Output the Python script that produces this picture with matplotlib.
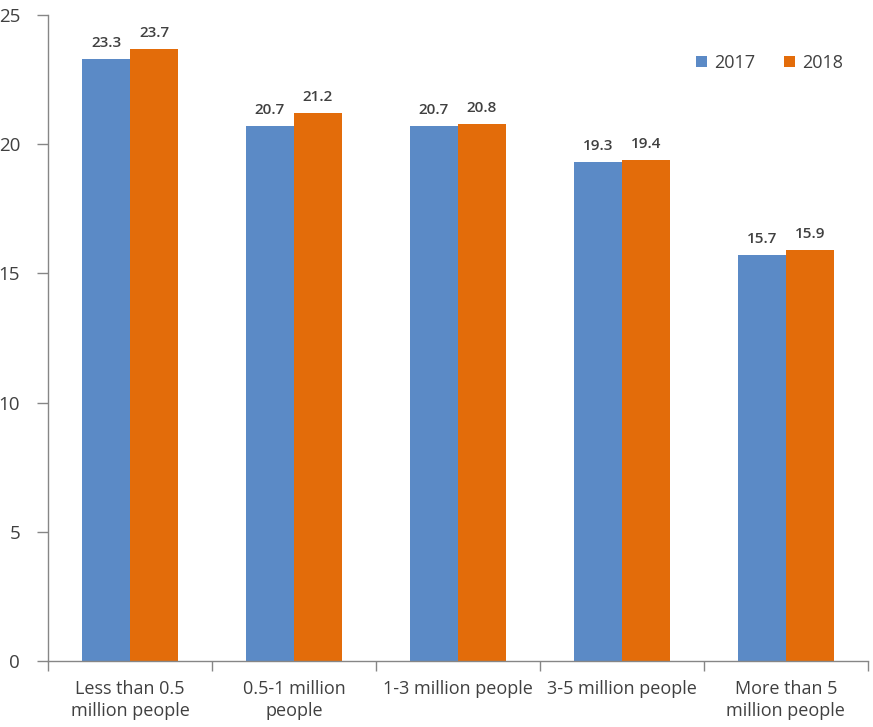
import matplotlib.pyplot as plt
import numpy as np

categories = ['Less than 0.5\nmillion people', '0.5-1 million\npeople', '1-3 million people',
              '3-5 million people', 'More than 5\nmillion people']
years = ['2017', '2018']
values_2017 = [23.3, 20.7, 20.7, 19.3, 15.7]
values_2018 = [23.7, 21.2, 20.8, 19.4, 15.9]
yticks = [0, 5, 10, 15, 20, 25]

colors = ['#5B8AC6', '#E36C0A']
text_color = '#404040'
spine_color = '#868686'

plt.rcParams['font.family'] = ['Open Sans', 'DejaVu Sans']

fig = plt.figure(figsize=(8.73, 7.27), dpi=100)
ax = fig.add_axes([0.055, 0.091, 0.939, 0.888])

x = np.arange(len(categories))
w = 0.293
for i, (vals, col) in enumerate(zip([values_2017, values_2018], colors)):
    pos = x + (i - 0.5) * w
    ax.bar(pos, vals, w, color=col, label=years[i])
    for px, v in zip(pos, vals):
        ax.text(px, v + 0.35, f'{v:.1f}', ha='center', va='bottom',
                fontsize=11, color=text_color, fontweight='semibold')

ax.set_xlim(-0.5, len(categories) - 0.5)
ax.set_ylim(0, 25)
ax.set_yticks(yticks)
ax.set_yticklabels([str(t) for t in yticks], fontsize=13.5, color=text_color)

ax.set_xticks(x)
ax.set_xticklabels(categories, fontsize=13, color=text_color, linespacing=1.25)
ax.tick_params(axis='x', which='major', length=0, pad=14)
ax.set_xticks(np.arange(len(categories) + 1) - 0.5, minor=True)
ax.tick_params(axis='x', which='minor', length=7, color=spine_color, width=1)
ax.tick_params(axis='y', length=8, color=spine_color, width=1, pad=12)

for s in ['top', 'right']:
    ax.spines[s].set_visible(False)
for s in ['left', 'bottom']:
    ax.spines[s].set_color(spine_color)
    ax.spines[s].set_linewidth(1)

leg = ax.legend(loc='upper right', bbox_to_anchor=(0.99, 0.965), ncol=2, frameon=False,
                fontsize=13, handlelength=0.6, handleheight=0.6, handletextpad=0.4,
                columnspacing=1.6)
for t in leg.get_texts():
    t.set_color(text_color)

fig.savefig('out.png', dpi=100)
